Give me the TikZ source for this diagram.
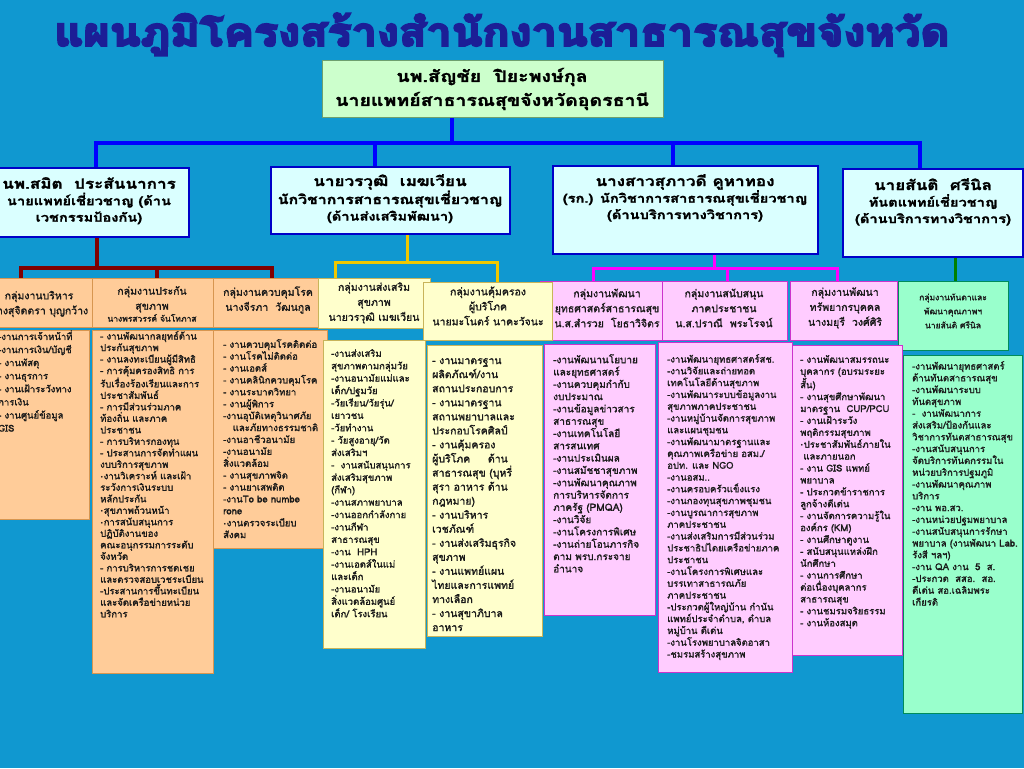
\documentclass[tikz,border=0pt]{standalone}
\usepackage{fontspec}
\newfontfamily\thai[Script=Thai,FakeBold=1.5]{Loma}
\newfontfamily\thaiw[Script=Thai,FakeStretch=1.22,FakeBold=1.5]{Loma}
\newfontfamily\thaititle[Script=Thai,FakeBold=5]{Loma}
\newfontfamily\dejavu{DejaVu Sans}
\usetikzlibrary{fit,calc}
\definecolor{bg}{RGB}{16,152,208}
\definecolor{navy}{RGB}{28,30,150}
\definecolor{topfill}{RGB}{204,255,204}
\definecolor{topdraw}{RGB}{110,160,110}
\definecolor{lvfill}{RGB}{218,255,255}
\definecolor{lvdraw}{RGB}{0,0,200}
\definecolor{orfill}{RGB}{255,204,153}
\definecolor{ordraw}{RGB}{215,150,80}
\definecolor{yefill}{RGB}{255,255,204}
\definecolor{yedraw}{RGB}{200,180,90}
\definecolor{pifill}{RGB}{255,204,255}
\definecolor{pidraw}{RGB}{204,51,204}
\definecolor{mifill}{RGB}{153,255,204}
\definecolor{midraw}{RGB}{0,140,90}
\definecolor{lblue}{RGB}{0,0,255}
\definecolor{lred}{RGB}{128,0,0}
\definecolor{lyel}{RGB}{240,200,0}
\definecolor{lmag}{RGB}{255,0,255}
\definecolor{lgreen}{RGB}{0,128,0}
\definecolor{txt}{RGB}{25,25,25}
\newcommand\bul{{\dejavu\fontsize{6}{6}\selectfont\textbullet}}
\tikzset{
  bx/.style={draw, rectangle, inner sep=0pt, line width=1pt},
  topbox/.style={bx, fill=topfill, draw=topdraw},
  lvbox/.style={bx, fill=lvfill, draw=lvdraw, line width=1.2pt},
  orbox/.style={bx, fill=orfill, draw=ordraw},
  yebox/.style={bx, fill=yefill, draw=yedraw},
  pibox/.style={bx, fill=pifill, draw=pidraw},
  mibox/.style={bx, fill=mifill, draw=midraw},
  lvtext/.style={anchor=north, align=center, inner sep=0pt, text=black, font=\thaiw\bfseries\fontsize{12}{16.5}\selectfont},
  grtext/.style={align=center, inner sep=0pt, text=txt, font=\thai\fontsize{10.5}{15}\selectfont},
  dt/.style={anchor=north west, align=left, inner sep=0pt, text=txt},
  bline/.style={line width=4pt, draw=lblue},
  rline/.style={line width=4pt, draw=lred},
  yline/.style={line width=3pt, draw=lyel},
  mline/.style={line width=3pt, draw=lmag},
  gline/.style={line width=3pt, draw=lgreen},
}
\begin{document}
\begin{tikzpicture}[x=1pt,y=-1pt]
\clip (0,0) rectangle (1024,768);
\fill[bg] (0,0) rectangle (1024,768);

% title
\node[anchor=base, inner sep=0pt, text=navy] (title) at (502,46)
  {\resizebox{895pt}{33pt}{\thaititle\bfseries แผนภูมิโครงสร้างสำนักงานสาธารณสุขจังหวัด}};

% top box
\node[topbox, fit={(322,60)(663,117)}] (top) {};
\node[align=center, inner sep=0pt, font=\thaiw\bfseries\fontsize{16}{24}\selectfont] (toptext) at (492,89)
  {นพ.สัญชัย\ \ ปิยะพงษ์กุล\\นายแพทย์สาธารณสุขจังหวัดอุดรธานี};

% level-2 coordinates
\coordinate (jt) at (452,143);
\coordinate (ja) at (96,143);
\coordinate (jb) at (375,143);
\coordinate (jc) at (673,143);
\coordinate (jd) at (920,143);

% connectors (drawn beneath boxes)
\draw[bline] (top.south -| jt) -- (jt);
\draw[bline] ([xshift=-2pt]ja) -- ([xshift=2pt]jd);
\draw[bline] (ja) -- (96,170);
\draw[bline] (jb) -- (375,170);
\draw[bline] (jc) -- (673,170);
\draw[bline] (jd) -- (920,172);

% red group
\coordinate (ra) at (97,268);
\coordinate (r1) at (21,268);
\coordinate (r2) at (157,268);
\coordinate (r3) at (272,268);
\draw[rline] (97,235) -- (ra);
\draw[rline] ([xshift=-2pt]r1) -- ([xshift=2pt]r3);
\draw[rline] (r1) -- (21,282);
\draw[rline] (r2) -- (157,282);
\draw[rline] (r3) -- (272,282);
% yellow group
\coordinate (y0) at (407,262);
\coordinate (y1) at (335,262);
\coordinate (y2) at (497,262);
\draw[yline] (407,232) -- (y0);
\draw[yline] ([xshift=-1.5pt]y1) -- ([xshift=1.5pt]y2);
\draw[yline] (y1) -- (335,281);
\draw[yline] (y2) -- (497,285);
% magenta group
\coordinate (m0) at (714,268);
\coordinate (m1) at (593,268);
\coordinate (m2) at (727,268);
\coordinate (m3) at (837,268);
\draw[mline] (714,252) -- (m0);
\draw[mline] ([xshift=-1.5pt]m1) -- ([xshift=1.5pt]m3);
\draw[mline] (m1) -- (593,283);
\draw[mline] (m2) -- (727,283);
\draw[mline] (m3) -- (837,283);
% green
\coordinate (g0) at (955,255);
\draw[gline] (g0) -- (955,285);

% level-2 boxes
\node[lvbox, fit={(-6,168)(189,237)}] (bA) {};
\node[lvbox, fit={(271,167)(510,234)}] (bB) {};
\node[lvbox, fit={(553,166)(818,254)}] (bC) {};
\node[lvbox, fit={(843,169)(1023,257)}] (bD) {};
\node[lvtext] (tA) at (89,177) {{\fontsize{14}{18}\selectfont นพ.สมิต\ \ ประสันนาการ}\\นายแพทย์เชี่ยวชาญ (ด้าน\\เวชกรรมป้องกัน)};
\node[lvtext] (tB) at (390,174) {{\fontsize{14}{18}\selectfont นายวรวุฒิ\ \ เมฆเวียน}\\{\fontsize{13}{16.5}\selectfont นักวิชาการสาธารณสุขเชี่ยวชาญ}\\(ด้านส่งเสริมพัฒนา)};
\node[lvtext] (tC) at (685,174) {{\fontsize{14}{18}\selectfont นางสาวสุภาวดี คูหาทอง}\\(รก.) นักวิชาการสาธารณสุขเชี่ยวชาญ\\(ด้านบริการทางวิชาการ)};
\node[lvtext] (tD) at (933,178) {{\fontsize{14}{18}\selectfont นายสันติ\ \ ศรีนิล}\\ทันตแพทย์เชี่ยวชาญ\\(ด้านบริการทางวิชาการ)};

% group row
\node[orbox, fit={(-14,278)(92,327)}] (g1) {};
\node[grtext] (g1t) at (39,304) {กลุ่มงานบริหาร\\นางสุจิดตรา บุญกว้าง};
\node[orbox, fit={(92,278)(213,327)}] (g2) {};
\node[grtext] (g2t) at (152,304) {กลุ่มงานประกัน\\สุขภาพ\\[-3pt]{\fontsize{8.5}{11}\selectfont นางพรสวรรค์ จันโทภาส}};
\node[orbox, fit={(213,278)(322,327)}] (g3) {};
\node[grtext] (g3t) at (268,300) {กลุ่มงานควบคุมโรค\\นางจีรภา\ \ วัฒนกูล};
\node[yebox, fit={(318,278)(430,328)}] (g4) {};
\node[grtext] (g4t) at (374,303) {กลุ่มงานส่งเสริม\\สุขภาพ\\นายวรวุฒิ เมฆเวียน};
\node[pibox, fit={(540,281)(662,340)}] (g6) {};
\node[grtext] (g6t) at (607,308) {กลุ่มงานพัฒนา\\ยุทธศาสตร์สาธารณสุข\\น.ส.สำรวย\ \ โยธาวิจิตร};
\node[yebox, fit={(423,282)(552,340)}] (g5) {};
\node[grtext] (g5t) at (488,306) {กลุ่มงานคุ้มครอง\\ผู้บริโภค\\นายมะโนตร์ นาคะวัจนะ};
\node[pibox, fit={(662,281)(787,340)}] (g7) {};
\node[grtext] (g7t) at (724,308) {กลุ่มงานสนับสนุน\\ภาคประชาชน\\น.ส.ปราณี\ \ พระโรจน์};
\node[pibox, fit={(790,281)(897,340)}] (g8) {};
\node[grtext] (g8t) at (845,308) {กลุ่มงานพัฒนา\\ทรัพยากรบุคคล\\นางมยุรี\ \ วงศ์ศิริ};
\node[mibox, fit={(898,281)(1008,350)}] (g9) {};
\node[grtext, font=\thai\fontsize{8.5}{14}\selectfont] (g9t) at (953,311) {กลุ่มงานทันตาและ\\พัฒนาคุณภาพฯ\\นายสันติ ศรีนิล};

% detail boxes
\node[orbox, fit={(-14,330)(89,519)}] (d1) {};
\node[dt, font=\thai\fontsize{9.5}{13.1}\selectfont] (d1t) at (-2,330)
 {-งานการเจ้าหน้าที่\\-งานการเงิน/บัญชี\\- งานพัสดุ\\- งานธุรการ\\- งานเฝ้าระวังทาง\\การเงิน\\- งานศูนย์ข้อมูล\\GIS};

\node[orbox, fit={(92,330)(213,673)}] (d2) {};
\node[dt, font=\thai\fontsize{9.5}{11.5}\selectfont] (d2t) at (100,331)
 {- งานพัฒนากลยุทธ์ด้าน\\ประกันสุขภาพ\\- งานลงทะเบียนผู้มีสิทธิ\\- การคุ้มครองสิทธิ การ\\รับเรื่องร้องเรียนและการ\\ประชาสัมพันธ์\\- การมีส่วนร่วมภาค\\ท้องถิ่น และภาค\\ประชาชน\\- การบริหารกองทุน\\- ประสานการจัดทำแผน\\งบบริการสุขภาพ\\\bul งานวิเคราะห์ และเฝ้า\\ระวังการเงินระบบ\\หลักประกัน\\\bul สุขภาพถ้วนหน้า\\\bul การสนับสนุนการ\\ปฏิบัติงานของ\\คณะอนุกรรมการระดับ\\จังหวัด\\- การบริหารการชดเชย\\และตรวจสอบเวชระเบียน\\-ประสานการขึ้นทะเบียน\\และจัดเครือข่ายหน่วย\\บริการ};

\node[orbox, fit={(213,330)(327,548)}] (d3) {};
\node[dt, font=\thai\fontsize{9.5}{11.9}\selectfont] (d3t) at (223,339)
 {- งานควบคุมโรคติดต่อ\\- งานโรคไม่ติดต่อ\\- งานเอดส์\\- งานคลินิกควบคุมโรค\\- งานระบาดวิทยา\\- งานผู้พิการ\\-งานอุบัติเหตุวินาศภัย\\\ \ \ และภัยทางธรรมชาติ\\-งานอาชีวอนามัย\\-งานอนามัย\\สิ่งแวดล้อม\\- งานสุขภาพจิต\\- งานยาเสพติด\\-งานTo be numbe\\rone\\\bul งานตรวจระเบียบ\\สังคม};

\node[yebox, fit={(323,340)(425,648)}] (d4) {};
\node[dt, font=\thai\fontsize{9.5}{12.4}\selectfont] (d4t) at (331,349)
 {-งานส่งเสริม\\สุขภาพตามกลุ่มวัย\\-งานอนามัยแม่และ\\เด็ก/ปฐมวัย\\-วัยเรียน/วัยรุ่น/\\เยาวชน\\-วัยทำงาน\\- วัยสูงอายุ/วัด\\ส่งเสริมฯ\\-\ \ งานสนับสนุนการ\\ส่งเสริมสุขภาพ\\(กีฬา)\\-งานสภาพยาบาล\\-งานออกกำลังกาย\\-งานกีฬา\\สาธารณสุข\\-งาน\ \ HPH\\-งานเอดส์ในแม่\\และเด็ก\\-งานอนามัย\\สิ่งแวดล้อมศูนย์\\เด็ก/ โรงเรียน};

\node[yebox, fit={(427,345)(542,636)}] (d5) {};
\node[dt, font=\thai\fontsize{10.5}{14.05}\selectfont] (d5t) at (432,358)
 {- งานมาตรฐาน\\ผลิตภัณฑ์/งาน\\สถานประกอบการ\\- งานมาตรฐาน\\สถานพยาบาลและ\\ประกอบโรคศิลป์\\- งานคุ้มครอง\\ผู้บริโภค\ \ \ \ \ ด้าน\\สาธารณสุข (บุหรี่\\สุรา อาหาร ด้าน\\กฎหมาย)\\- งานบริหาร\\เวชภัณฑ์\\- งานส่งเสริมธุรกิจ\\สุขภาพ\\- งานแพทย์แผน\\ไทยและการแพทย์\\ทางเลือก\\- งานสุขาภิบาล\\อาหาร};

\node[pibox, fit={(544,344)(655,615)}] (d6) {};
\node[dt, font=\thai\fontsize{10}{12.3}\selectfont] (d6t) at (553,354)
 {-งานพัฒนานโยบาย\\และยุทธศาสตร์\\-งานควบคุมกำกับ\\งบประมาณ\\-งานข้อมูลข่าวสาร\\สาธารณสุข\\-งานเทคโนโลยี\\สารสนเทศ\\-งานประเมินผล\\-งานสมัชชาสุขภาพ\\-งานพัฒนาคุณภาพ\\การบริหารจัดการ\\ภาครัฐ (PMQA)\\-งานวิจัย\\-งานโครงการพิเศษ\\-งานถ่ายโอนภารกิจ\\ตาม พรบ.กระจาย\\อำนาจ};

\node[pibox, fit={(658,342)(792,672)}] (d7) {};
\node[dt, font=\thai\fontsize{9.5}{11.8}\selectfont] (d7t) at (667,354)
 {-งานพัฒนายุทธศาสตร์สช.\\-งานวิจัยและถ่ายทอด\\เทคโนโลยีด้านสุขภาพ\\-งานพัฒนาระบบข้อมูลงาน\\สุขภาพภาคประชาชน\\-งานหมู่บ้านจัดการสุขภาพ\\และแผนชุมชน\\-งานพัฒนามาตรฐานและ\\คุณภาพเครือข่าย อสม./\\อปท. และ NGO\\-งานอสม..\\-งานครอบครัวแข็งแรง\\-งานกองทุนสุขภาพชุมชน\\-งานบูรณาการสุขภาพ\\ภาคประชาชน\\-งานส่งเสริมการมีส่วนร่วม\\ประชาธิปไตยเครือข่ายภาค\\ประชาชน\\-งานโครงการพิเศษและ\\บรรเทาสาธารณภัย\\ภาคประชาชน\\-ประกวดผู้ใหญ่บ้าน กำนัน\\แพทย์ประจำตำบล, ตำบล\\หมู่บ้าน ดีเด่น\\-งานโรงพยาบาลจิตอาสา\\-ชมรมสร้างสุขภาพ};

\node[pibox, fit={(792,345)(902,655)}] (d8) {};
\node[dt, font=\thai\fontsize{9.5}{11.9}\selectfont] (d8t) at (800,355)
 {- งานพัฒนาสมรรถนะ\\บุคลากร (อบรมระยะ\\สั้น)\\- งานสุขศึกษาพัฒนา\\มาตรฐาน\ \ CUP/PCU\\- งานเฝ้าระวัง\\พฤติกรรมสุขภาพ\\\bul ประชาสัมพันธ์ภายใน\\\ และภายนอก\\- งาน GIS แพทย์\\พยาบาล\\- ประกวดข้าราชการ\\ลูกจ้างดีเด่น\\- งานจัดการความรู้ใน\\องค์กร (KM)\\- งานศึกษาดูงาน\\- สนับสนุนแหล่งฝึก\\นักศึกษา\\- งานการศึกษา\\ต่อเนื่องบุคลากร\\สาธารณสุข\\- งานชมรมจริยธรรม\\- งานห้องสมุด};

\node[mibox, fit={(903,355)(1022,713)}] (d9) {};
\node[dt, font=\thai\fontsize{9.5}{11.8}\selectfont] (d9t) at (912,361)
 {-งานพัฒนายุทธศาสตร์\\ด้านทันตสาธารณสุข\\-งานพัฒนาระบบ\\ทันตสุขภาพ\\-\ \ งานพัฒนาการ\\ส่งเสริม/ป้องกันและ\\วิชาการทันตสาธารณสุข\\-งานสนับสนุนการ\\จัดบริการทันตกรรมใน\\หน่วยบริการปฐมภูมิ\\-งานพัฒนาคุณภาพ\\บริการ\\-งาน พอ.สว.\\-งานหน่วยปฐมพยาบาล\\-งานสนับสนุนการรักษา\\พยาบาล (งานพัฒนา Lab.\\รังสี ฯลฯ)\\-งาน QA งาน\ \ 5\ \ ส.\\-ประกวด\ \ สสอ.\ \ สอ.\\ดีเด่น สอ.เฉลิมพระ\\เกียรติ};
\end{tikzpicture}
\end{document}
